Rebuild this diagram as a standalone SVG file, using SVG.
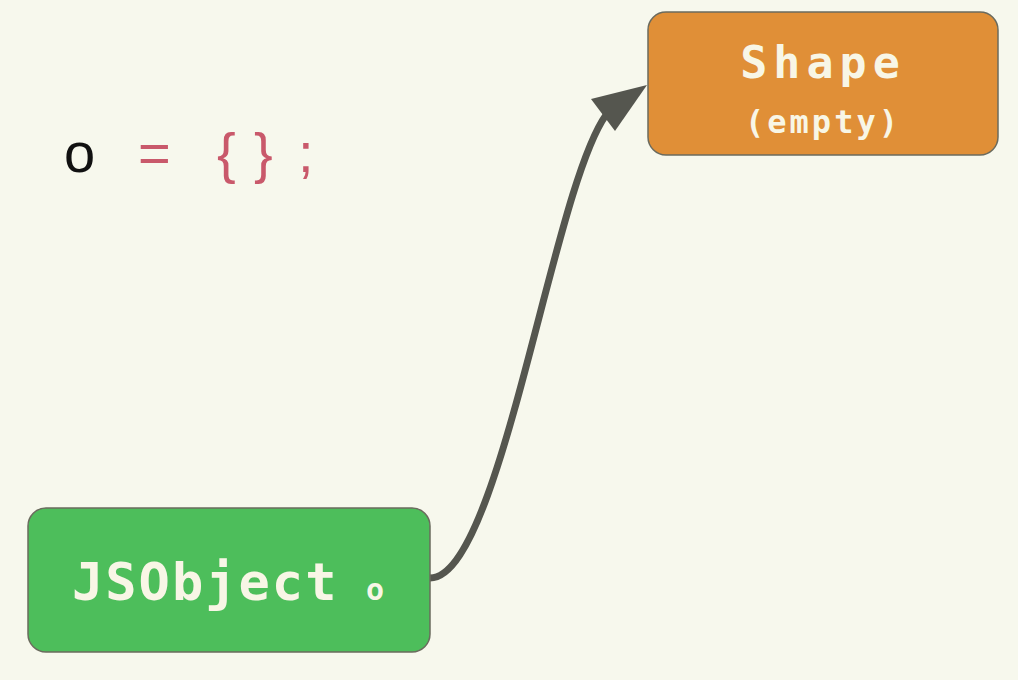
<svg xmlns="http://www.w3.org/2000/svg" width="1018" height="680" viewBox="0 0 1018 680">
<style>
.box{stroke:#6b6b5e;stroke-width:1.5}
.lbl{font-family:"DejaVu Sans Mono","Liberation Mono",monospace;font-weight:bold;fill:#f8f6e6;text-anchor:middle}
.code{font-family:"Liberation Sans",Arial,sans-serif;font-size:56px}
.conn{fill:none;stroke:#55564f;stroke-width:7;stroke-linecap:round}
</style>
<rect width="1018" height="680" fill="#f7f8ed"/>
<g id="code">
<text class="code" y="172"><tspan x="64" fill="#111">o</tspan><tspan x="138" fill="#c9596b">=</tspan><tspan x="217" fill="#c9596b">{</tspan><tspan x="254" fill="#c9596b">}</tspan><tspan x="298" fill="#c9596b">;</tspan></text>
</g>
<g id="connectors">
<path class="conn" d="M430,578 C500,578 552,190 606,115"/>
<polygon points="647,85 591,99 615,131" fill="#55564f"/>
</g>
<g id="shape">
<rect class="box" x="648" y="12" width="350" height="143" rx="18" fill="#e08f37"/>
<text class="lbl" x="823" y="78" font-size="45" letter-spacing="6">Shape</text>
<text class="lbl" x="823" y="133" font-size="32" letter-spacing="3">(empty)</text>
</g>
<g id="jsobject">
<rect class="box" x="28" y="508" width="402" height="144" rx="18" fill="#4dbe5b"/>
<text class="lbl" x="72" y="600" font-size="52" letter-spacing="2" style="text-anchor:start">JSObject</text>
<text class="lbl" x="375" y="600" font-size="30">o</text>
</g>
</svg>
